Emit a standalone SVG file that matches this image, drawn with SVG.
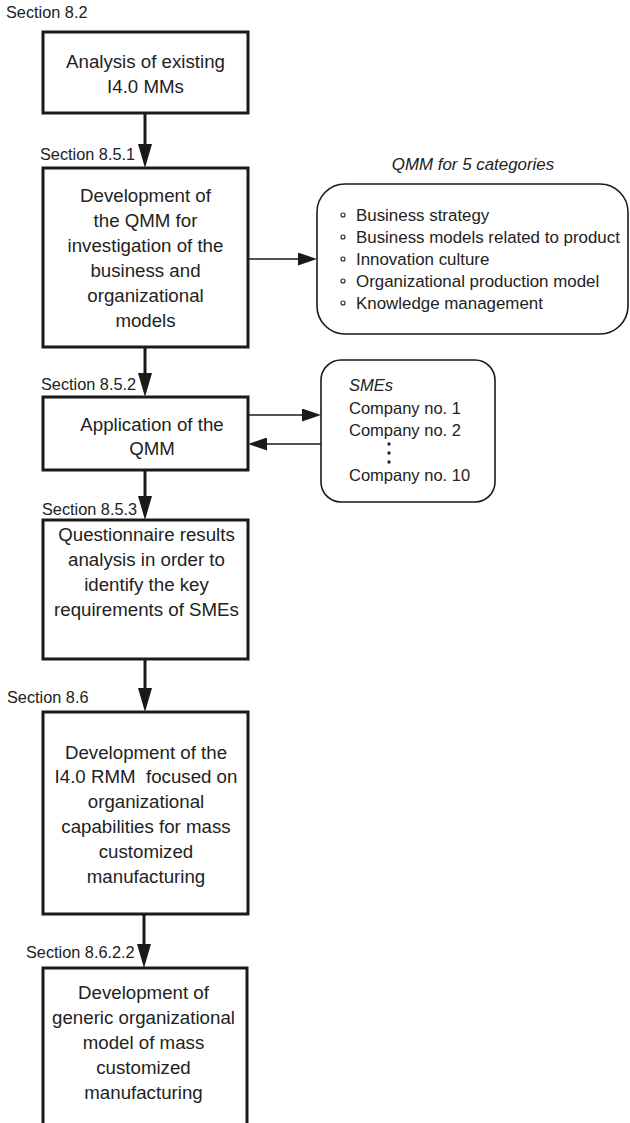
<svg xmlns="http://www.w3.org/2000/svg" width="630" height="1123" viewBox="0 0 630 1123">
<style>
.box{fill:#fff;stroke:#1a1a1a;stroke-width:3}
.rbox{fill:#fff;stroke:#1a1a1a;stroke-width:1.6}
.t{font-family:"Liberation Sans",Arial,sans-serif;font-size:18.7px;fill:#222;text-anchor:middle}
.sec{font-family:"Liberation Sans",Arial,sans-serif;font-size:16.3px;fill:#222}
.li{font-family:"Liberation Sans",Arial,sans-serif;font-size:16.9px;fill:#222}
.co{font-family:"Liberation Sans",Arial,sans-serif;font-size:16.5px;fill:#222}
.it{font-style:italic}
.thick{fill:none;stroke:#1a1a1a;stroke-width:3}
.thin{fill:none;stroke:#1a1a1a;stroke-width:1.5}
.bul{fill:none;stroke:#222;stroke-width:1.1}
</style>
<defs>
<marker id="big" markerUnits="userSpaceOnUse" markerWidth="24" markerHeight="14" viewBox="0 0 24 14" refX="18" refY="7" orient="auto">
<path d="M0,0 L24,7 L0,14 z" fill="#1a1a1a"/>
</marker>
<marker id="small" markerUnits="userSpaceOnUse" markerWidth="19" markerHeight="13" viewBox="0 0 19 13" refX="16" refY="6.5" orient="auto">
<path d="M0,0 L19,6.5 L0,13 z" fill="#1a1a1a"/>
</marker>
</defs>

<g id="labels">
<text class="sec" x="6" y="18">Section 8.2</text>
<text class="sec" x="40" y="160">Section 8.5.1</text>
<text class="sec" x="41" y="390">Section 8.5.2</text>
<text class="sec" x="42" y="515">Section 8.5.3</text>
<text class="sec" x="7" y="703">Section 8.6</text>
<text class="sec" x="26" y="958">Section 8.6.2.2</text>
</g>

<g id="connectors">
<path class="thick" d="M145,113 V162" marker-end="url(#big)"/>
<path class="thick" d="M145,347 V391" marker-end="url(#big)"/>
<path class="thick" d="M145,470 V514" marker-end="url(#big)"/>
<path class="thick" d="M145,659 V706" marker-end="url(#big)"/>
<path class="thick" d="M144,914 V962" marker-end="url(#big)"/>
<path class="thin" d="M248,259 H314" marker-end="url(#small)"/>
<path class="thin" d="M248,415 H318" marker-end="url(#small)"/>
<path class="thin" d="M321,444 H251" marker-end="url(#small)"/>
</g>

<g id="n1">
<rect class="box" x="43" y="32" width="205" height="81"/>
<text class="t" x="145.5" y="68">Analysis of existing</text>
<text class="t" x="145.5" y="93">I4.0 MMs</text>
</g>

<g id="n2">
<rect class="box" x="43" y="168" width="205" height="179"/>
<text class="t" x="145.5" y="202">Development of</text>
<text class="t" x="145.5" y="227">the QMM for</text>
<text class="t" x="145.5" y="252">investigation of the</text>
<text class="t" x="145.5" y="277">business and</text>
<text class="t" x="145.5" y="302">organizational</text>
<text class="t" x="145.5" y="327">models</text>
</g>

<g id="n3">
<rect class="box" x="43" y="397" width="205" height="73"/>
<text class="t" x="152" y="431">Application of the</text>
<text class="t" x="152" y="455">QMM</text>
</g>

<g id="n4">
<rect class="box" x="43" y="520" width="205" height="139"/>
<text class="t" x="146.5" y="541">Questionnaire results</text>
<text class="t" x="146.5" y="566">analysis in order to</text>
<text class="t" x="146.5" y="591">identify the key</text>
<text class="t" x="146.5" y="616">requirements of SMEs</text>
</g>

<g id="n5">
<rect class="box" x="43" y="712" width="205" height="202"/>
<text class="t" x="146" y="759">Development of the</text>
<text class="t" x="146" y="783" xml:space="preserve">I4.0 RMM  focused on</text>
<text class="t" x="146" y="808">organizational</text>
<text class="t" x="146" y="833">capabilities for mass</text>
<text class="t" x="146" y="858">customized</text>
<text class="t" x="146" y="883">manufacturing</text>
</g>

<g id="n6">
<rect class="box" x="43" y="968" width="204" height="170"/>
<text class="t" x="143.5" y="999">Development of</text>
<text class="t" x="143.5" y="1024">generic organizational</text>
<text class="t" x="143.5" y="1049">model of mass</text>
<text class="t" x="143.5" y="1074">customized</text>
<text class="t" x="143.5" y="1099">manufacturing</text>
</g>

<g id="qmm">
<text class="li it" x="473" y="170" text-anchor="middle" font-size="16px">QMM for 5 categories</text>
<rect class="rbox" x="317" y="184" width="311" height="150" rx="28" ry="28"/>
<circle class="bul" cx="343" cy="215" r="2"/>
<circle class="bul" cx="343" cy="237" r="2"/>
<circle class="bul" cx="343" cy="259" r="2"/>
<circle class="bul" cx="343" cy="281" r="2"/>
<circle class="bul" cx="343" cy="303" r="2"/>
<text class="li" x="356" y="221">Business strategy</text>
<text class="li" x="356" y="243">Business models related to product</text>
<text class="li" x="356" y="265">Innovation culture</text>
<text class="li" x="356" y="287">Organizational production model</text>
<text class="li" x="356" y="309">Knowledge management</text>
</g>

<g id="smes">
<rect class="rbox" x="321" y="360" width="174" height="142" rx="20" ry="20"/>
<text class="co it" x="349" y="391">SMEs</text>
<text class="co" x="349" y="414">Company no. 1</text>
<text class="co" x="349" y="435.5">Company no. 2</text>
<circle cx="389" cy="444" r="1.7" fill="#222"/>
<circle cx="389" cy="453" r="1.7" fill="#222"/>
<circle cx="389" cy="462" r="1.7" fill="#222"/>
<text class="co" x="349" y="481">Company no. 10</text>
</g>
</svg>
